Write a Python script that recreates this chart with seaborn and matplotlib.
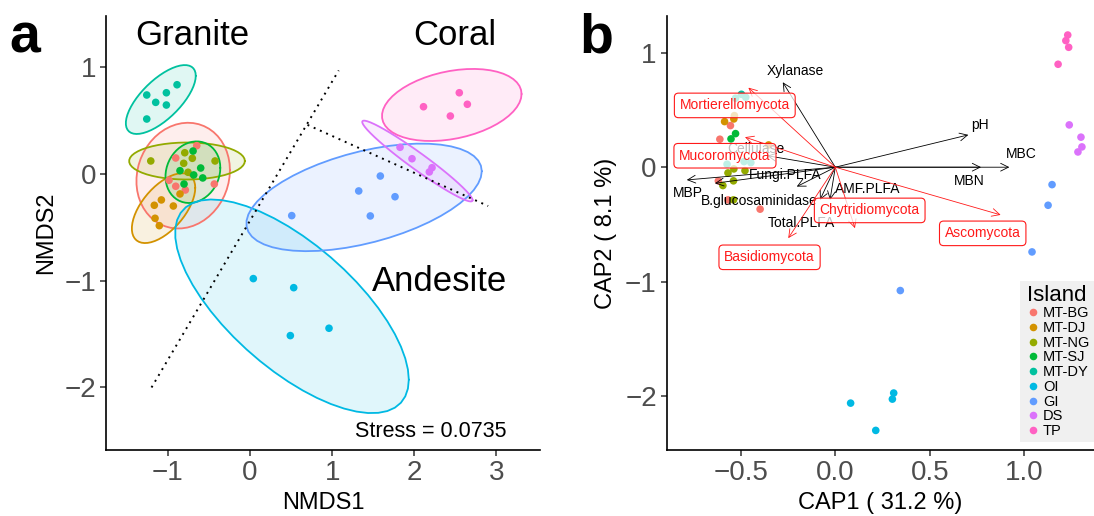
import numpy as np
import pandas as pd
import matplotlib
matplotlib.use('Agg')
import matplotlib.pyplot as plt
import seaborn as sns

# Groups
ISLANDS = ['MT-BG', 'MT-DJ', 'MT-NG', 'MT-SJ', 'MT-DY', 'OI', 'GI', 'DS', 'TP']
COLORS = ['#F8766D', '#D39200', '#93AA00', '#00BA38', '#00C19F',
          '#00B9E3', '#619CFF', '#DB72FB', '#FF61C3']

# Panel a - NMDS scores
nmds_n = [6, 6, 6, 6, 6, 4, 5, 4, 4]
nmds1 = [-0.649, -0.905, -0.987, -0.905, -0.788, -0.435,
         -1.166, -1.080, -0.934, -1.157, -1.105, -0.853,
         -1.209, -0.795, -0.703, -0.808, -0.426, -0.755,
         -0.694, -0.853, -0.686, -0.601, -0.576, -0.804,
         -1.258, -1.149, -1.019, -0.889, -1.019, -1.258,
         0.040, 0.532, 0.962, 0.491,
         0.508, 1.324, 1.587, 1.766, 1.465,
         1.827, 1.973, 2.217, 2.184,
         2.113, 2.549, 2.647, 2.440]
nmds2 = [0.265, 0.150, -0.059, -0.115, -0.150, -0.094,
         -0.293, -0.243, -0.300, -0.415, -0.484, -0.187,
         0.122, 0.199, 0.147, 0.100, 0.122, 0.016,
         0.215, 0.031, -0.009, 0.056, -0.037, -0.094,
         0.740, 0.671, 0.761, 0.836, 0.646, 0.515,
         -0.980, -1.065, -1.445, -1.514,
         -0.390, -0.159, -0.019, -0.213, -0.393,
         0.250, 0.143, 0.059, 0.019,
         0.630, 0.761, 0.653, 0.543]
# dotted separation lines
line1_x = [-1.20, 1.08]
line1_y = [-2.00, 0.97]
line2_x = [0.70, 2.90]
line2_y = [0.46, -0.30]

# Panel b - CAP scores
cap_n = [5, 4, 6, 2, 6, 4, 4, 4, 4]
cap1 = [-0.555, -0.611, -0.619, -0.568, -0.398,
        -0.586, -0.537, -0.534, -0.353,
        -0.537, -0.568, -0.478, -0.539, -0.595, -0.539,
        -0.528, -0.552,
        -0.497, -0.528, -0.474, -0.573, -0.483, -0.447,
        0.081, 0.214, 0.309, 0.302,
        1.147, 1.126, 1.041, 0.344,
        1.238, 1.300, 1.305, 1.284,
        1.230, 1.220, 1.235, 1.179]
cap2 = [0.363, 0.244, -0.119, -0.285, -0.366,
        0.398, 0.421, 0.450, 0.194,
        -0.015, -0.050, -0.030, -0.119, -0.160, -0.285,
        0.293, 0.247,
        0.636, 0.602, 0.610, 0.026, 0.049, 0.040,
        -2.058, -2.296, -1.970, -2.023,
        -0.152, -0.332, -0.739, -1.076,
        0.369, 0.262, 0.177, 0.133,
        1.153, 1.104, 1.046, 0.898]

# environmental vectors (black)
env_names = ['Xylanase', 'pH', 'MBC', 'MBN', 'MBP', 'Fungi.PLFA',
             'B.glucosaminidase', 'AMF.PLFA', 'Total.PLFA', 'Cellulase']
env_x = [-0.278, 0.704, 0.921, 0.771, -0.786, -0.204, -0.637, -0.028, -0.081, -0.36]
env_y = [0.741, 0.282, 0.0, 0.0, -0.111, -0.169, -0.140, -0.285, -0.285, 0.10]
env_lx = [-0.213, 0.766, 0.986, 0.707, -0.781, -0.266, -0.405, 0.169, -0.180, -0.419]
env_ly = [0.842, 0.369, 0.113, -0.117, -0.221, -0.067, -0.294, -0.189, -0.483, 0.157]

# fungal phyla vectors (red)
phy_names = ['Mortierellomycota', 'Mucoromycota', 'Chytridiomycota',
             'Basidiomycota', 'Ascomycota']
phy_x = [-0.460, -0.478, 0.104, -0.249, 0.875]
phy_y = [0.694, 0.262, -0.532, -0.619, -0.416]
phy_lx = [-0.532, -0.584, 0.182, -0.348, 0.780]
phy_ly = [0.539, 0.100, -0.377, -0.786, -0.577]

nmds = pd.DataFrame({'NMDS1': nmds1, 'NMDS2': nmds2,
                     'Island': np.repeat(ISLANDS, nmds_n)})
cap = pd.DataFrame({'CAP1': cap1, 'CAP2': cap2,
                    'Island': np.repeat(ISLANDS, cap_n)})


def cov_trob(xy, nu=5, maxit=25, tol=0.01):
    # same as MASS::cov.trob (used by ggplot stat_ellipse)
    n, p = xy.shape
    wt = np.ones(n)
    loc = xy.mean(axis=0)
    w = np.sqrt(wt)
    for _ in range(maxit):
        w0 = w
        X = xy - loc
        _, d, vt = np.linalg.svd(np.sqrt(w / w.sum())[:, None] * X, full_matrices=False)
        wX = X @ vt.T @ np.diag(1 / d)
        Q = (wX ** 2).sum(axis=1)
        w = wt * (nu + p) / (nu + Q)
        loc = (w[:, None] * xy).sum(axis=0) / w.sum()
        if np.all(np.abs(w - w0) < tol):
            break
    sX = np.sqrt(w)[:, None] * X
    return loc, sX.T @ sX / wt.sum()


def ellipse(xy, level=0.95, segments=51):
    center, shape = cov_trob(xy)
    dfd = len(xy) - 1
    qf = dfd / 2 * ((1 - level) ** (-2 / dfd) - 1)
    radius = np.sqrt(2 * qf)
    ang = np.linspace(0, 2 * np.pi, segments + 1)
    circ = np.column_stack([np.cos(ang), np.sin(ang)])
    L = np.linalg.cholesky(shape)
    return center + radius * circ @ L.T


sns.set_style('ticks')
plt.rcParams['font.family'] = ['Liberation Sans', 'DejaVu Sans']
plt.rcParams['axes.linewidth'] = 1.2
plt.rcParams['axes.edgecolor'] = 'black'
plt.rcParams['axes.labelcolor'] = 'black'
plt.rcParams['text.color'] = 'black'

fig = plt.figure(figsize=(10.94, 5.16), dpi=100)
ax_a = fig.add_axes([0.0973, 0.127, 0.3963, 0.842])
ax_b = fig.add_axes([0.6093, 0.127, 0.3907, 0.842])
pal = dict(zip(ISLANDS, COLORS))

# Panel a
for isl in ISLANDS:
    sub = nmds[nmds['Island'] == isl][['NMDS1', 'NMDS2']].to_numpy()
    e = ellipse(sub)
    ax_a.fill(e[:, 0], e[:, 1], color=pal[isl], alpha=0.12, lw=0)
    ax_a.plot(e[:, 0], e[:, 1], color=pal[isl], lw=1.3)
sns.scatterplot(data=nmds, x='NMDS1', y='NMDS2', hue='Island', hue_order=ISLANDS,
                palette=pal, s=30, linewidth=0, legend=False, ax=ax_a, zorder=3)
ax_a.plot(line1_x, line1_y, ls=(0, (1, 2.5)), color='black', lw=1.4)
ax_a.plot(line2_x, line2_y, ls=(0, (1, 2.5)), color='black', lw=1.4)
ax_a.text(-0.70, 1.30, 'Granite', fontsize=25, ha='center', va='center')
ax_a.text(2.497, 1.30, 'Coral', fontsize=25, ha='center', va='center')
ax_a.text(2.306, -1.008, 'Andesite', fontsize=25, ha='center', va='center')
ax_a.text(2.205, -2.41, 'Stress = 0.0735', fontsize=15.5, ha='center', va='center')
ax_a.set_xlim(-1.749, 3.532)
ax_a.set_ylim(-2.59, 1.48)
ax_a.set_xticks([-1, 0, 1, 2, 3])
ax_a.set_yticks([-2, -1, 0, 1])

# Panel b
sns.scatterplot(data=cap, x='CAP1', y='CAP2', hue='Island', hue_order=ISLANDS,
                palette=pal, s=30, linewidth=0, ax=ax_b, zorder=2)
for name, x, y, lx, ly in zip(env_names, env_x, env_y, env_lx, env_ly):
    ax_b.annotate('', xy=(x, y), xytext=(0, 0),
                  arrowprops=dict(arrowstyle='->', color='black', lw=0.6,
                                  mutation_scale=14, shrinkA=0, shrinkB=0), zorder=3)
    ax_b.text(lx, ly, name, fontsize=10, ha='center', va='center', zorder=3)
for name, x, y, lx, ly in zip(phy_names, phy_x, phy_y, phy_lx, phy_ly):
    ax_b.annotate('', xy=(x, y), xytext=(0, 0),
                  arrowprops=dict(arrowstyle='->', color='#FF1A1A', lw=0.6,
                                  mutation_scale=14, shrinkA=0, shrinkB=0), zorder=4)
    ax_b.text(lx, ly, name, fontsize=10, color='#FF1A1A', ha='center', va='center', zorder=5,
              bbox=dict(boxstyle='round,pad=0.38,rounding_size=0.3',
                        fc=(1, 1, 1, 0.75), ec='#FF1A1A', lw=0.8))
ax_b.set_xlim(-0.893, 1.369)
ax_b.set_ylim(-2.471, 1.319)
ax_b.set_xticks([-0.5, 0.0, 0.5, 1.0])
ax_b.set_xticklabels(['\u22120.5', '0.0', '0.5', '1.0'])
ax_b.set_yticks([-2, -1, 0, 1])

handles, labels = ax_b.get_legend_handles_labels()
leg = ax_b.legend(handles, labels, title='Island', loc='lower right',
                  bbox_to_anchor=(1.0, 0.02), borderaxespad=0, frameon=True,
                  facecolor='#F0F0F0', edgecolor='none', fancybox=False,
                  fontsize=10.5, title_fontsize=16, handletextpad=0.1,
                  labelspacing=0.05, borderpad=0.25, handlelength=1.2, markerscale=1.0)
leg.get_frame().set_alpha(1)

for ax, xl, yl in [(ax_a, 'NMDS1', 'NMDS2'), (ax_b, 'CAP1 ( 31.2 %)', 'CAP2 ( 8.1 %)')]:
    sns.despine(ax=ax)
    ax.set_xlabel(xl, fontsize=17, labelpad=4)
    ax.set_ylabel(yl, fontsize=17, labelpad=6)
    ax.tick_params(labelsize=20, labelcolor='#4D4D4D', color='#333333',
                   length=4, width=1.1, pad=3)

fig.text(0.009, 0.975, 'a', fontsize=40, fontweight='bold', va='top')
fig.text(0.530, 0.975, 'b', fontsize=40, fontweight='bold', va='top')

fig.savefig('out.png', dpi=100)
